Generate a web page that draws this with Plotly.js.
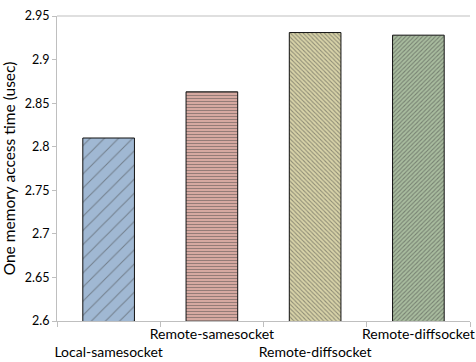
<!DOCTYPE html>
<html><head><meta charset="utf-8">
<script src="https://cdn.plot.ly/plotly-3.0.1.min.js"></script>
<style>body{margin:0;background:#fff}#c{width:476px;height:362px}</style>
</head><body><div id="c"></div>
<script>
const categories = ["Local-samesocket","Remote-samesocket","Remote-diffsocket","Remote-diffsocket "];
const values = [2.810, 2.863, 2.931, 2.928];
const yTickVals = [2.6,2.65,2.7,2.75,2.8,2.85,2.9,2.95];
const yTickText = ["2.6","2.65","2.7","2.75","2.8","2.85","2.9","2.95"];
const tickText = categories.map((c,i)=> i%2===0 ? "<br>"+c.trim() : c.trim());

const trace = {
  type:"bar", x:categories, y:values, width:0.5,
  marker:{
    color:["#a0b8d3","#d6a9a1","#d8d3a8","#a9bd9f"],
    line:{color:"#111",width:1},
    pattern:{
      shape:["/","-","\\","/"],
      fgcolor:["#90a8c4","#eacac3","#c2bc8e","#97ad8e"],
      size:[10,3,3,3],
      solidity:[0.1,0.3,0.35,0.35],
      fillmode:"overlay"
    }
  },
  hoverinfo:"skip"
};
const font = {family:"Lato, 'Open Sans', sans-serif", size:14, color:"#000"};
const layout = {
  width:476, height:362,
  margin:{l:57,r:6,t:16,b:41},
  paper_bgcolor:"#fff", plot_bgcolor:"#fff",
  font:font, showlegend:false, bargap:0.5,
  xaxis:{type:"category", tickvals:categories, ticktext:tickText, tickangle:0,
    showline:true, linecolor:"#bfbfbf", linewidth:1,
    ticks:"outside", tickson:"boundaries", ticklen:5, tickcolor:"#bfbfbf",
    showgrid:false, tickfont:{size:14}},
  yaxis:{range:[2.6,2.95], tickvals:yTickVals, ticktext:yTickText,
    showline:true, linecolor:"#bfbfbf", linewidth:1,
    ticks:"outside", ticklen:4, tickcolor:"#bfbfbf", showgrid:false, zeroline:false,
    tickfont:{size:12.5},
    title:{text:"One memory access time (usec)", font:{size:15.5}, standoff:10}},
  shapes:[{type:"line", xref:"paper", yref:"paper", x0:0, x1:1, y0:1, y1:1, line:{color:"#bfbfbf",width:1}}]
};
Plotly.newPlot("c",[trace],layout,{displayModeBar:false,staticPlot:true});
</script></body></html>
